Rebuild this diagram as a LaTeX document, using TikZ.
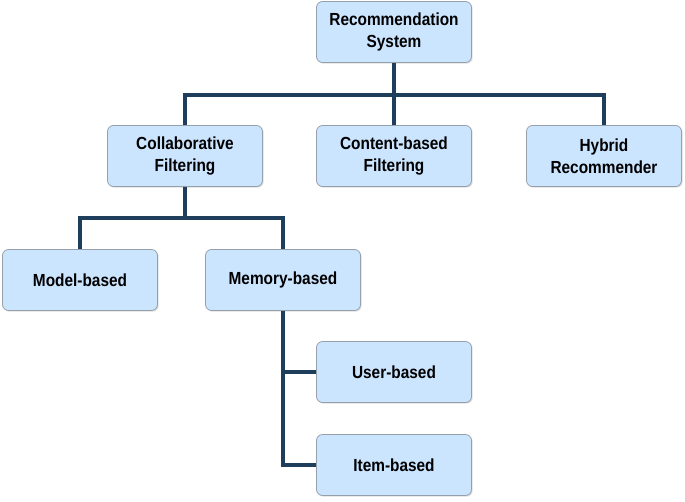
\documentclass[tikz,border=0pt]{standalone}
\usepackage{fontspec}
\setmainfont{Liberation Sans}[FakeStretch=0.88]
\usepackage{tikz}
\usepackage{xcolor}
\usetikzlibrary{positioning, shadows}
\definecolor{boxfill}{RGB}{204,229,255}
\definecolor{boxline}{RGB}{150,160,170}
\definecolor{linknavy}{RGB}{31,62,92}
\tikzset{
  recbox/.style={draw=boxline, fill=boxfill, rounded corners=6pt, thick,
    minimum width=155pt, minimum height=61pt, align=center,
    font=\fontsize{17.5}{22}\selectfont\bfseries,
    drop shadow={opacity=0.25, shadow xshift=1.2pt, shadow yshift=-1.2pt}},
  link/.style={draw=linknavy, line width=4.5pt}
}

\begin{document}
\begin{tikzpicture}[x=1pt,y=1pt]
\useasboundingbox (0,0) rectangle (685,-501);
% boxes
\node[recbox] (rec) at (394,-32) {Recommendation\\System};
\node[recbox] (collab) at (185,-156) {Collaborative\\Filtering};
\node[recbox] (content) at (394,-156) {Content-based\\Filtering};
\node[recbox] (hybrid) at (604,-156) {Hybrid\\Recommender};
\node[recbox] (model) at (80,-280) {Model-based};
\node[recbox] (memory) at (283,-280) {Memory-based};
\node[recbox] (user) at (394,-372) {User-based};
\node[recbox] (item) at (394,-465) {Item-based};
% connectors
\draw[link] (rec.south) -- ++(0,-32) coordinate (bus1);
\draw[link] (collab.north) |- (bus1) -| (hybrid.north);
\draw[link] (content.north) -- (content.north |- bus1);
\draw[link] (collab.south) -- ++(0,-31) coordinate (bus2);
\draw[link] (model.north) |- (bus2) -| (memory.north);
\draw[link] (memory.south) |- (item.west);
\draw[link] (memory.south |- user.west) -- (user.west);
\end{tikzpicture}
\end{document}
